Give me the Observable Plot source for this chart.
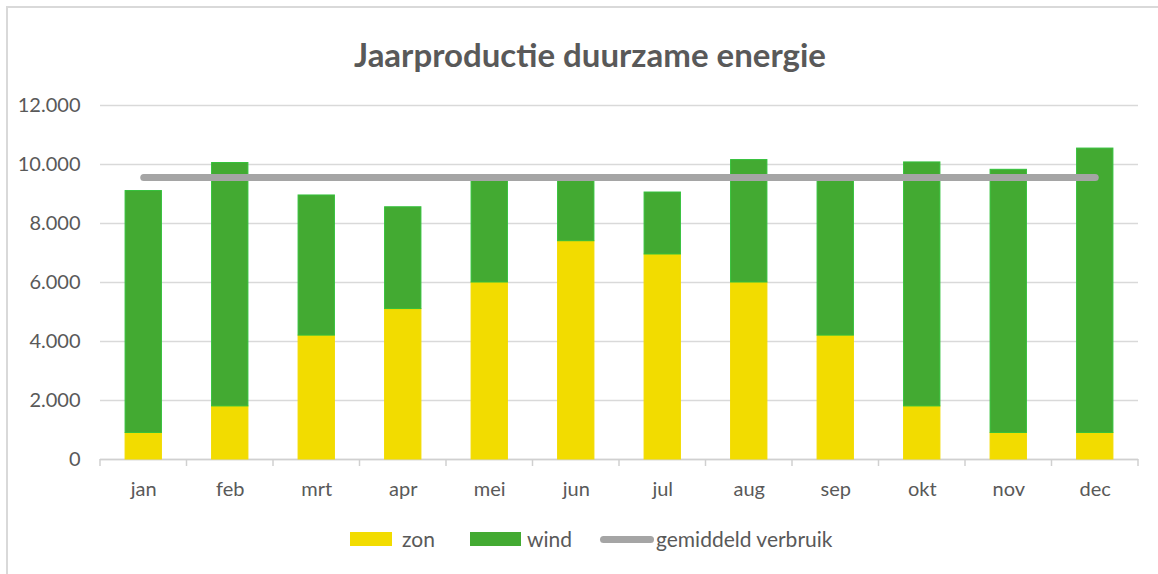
<!DOCTYPE html>
<html>
<head>
<meta charset="utf-8">
<script src="https://cdn.jsdelivr.net/npm/d3@7"></script>
<script src="https://cdn.jsdelivr.net/npm/@observablehq/plot@0.6"></script>
<style>
  html, body { margin: 0; padding: 0; background: #fff; }
  body { width: 1158px; height: 574px; overflow: hidden; position: relative; font-family: Lato, "Open Sans", sans-serif; color: #595959; }
  #frame { position: absolute; left: 6px; top: 6px; width: 1200px; height: 600px; border: 2px solid #d9d9d9; box-sizing: border-box; pointer-events: none; }
  #title { height: 90px; box-sizing: border-box; padding-top: 35px; padding-left: 22px; line-height: 38px; text-align: center; font-size: 33px; font-weight: bold; color: #595959; }
  #chart svg { display: block; }
  #legend { position: absolute; top: 528px; left: 0; width: 1158px; height: 22px; font-size: 21px; line-height: 22px; }
  .item { position: absolute; top: 0; display: flex; align-items: center; height: 22px; }
  .sw { display: inline-block; height: 14px; }
  .ln { display: inline-block; height: 7px; border-radius: 4px; }
</style>
</head>
<body>
<div id="frame"></div>
<div id="title">Jaarproductie duurzame energie</div>
<div id="chart"></div>
<div id="legend"></div>
<script>
const months = ["jan", "feb", "mrt", "apr", "mei", "jun", "jul", "aug", "sep", "okt", "nov", "dec"];
const zon = [900, 1800, 4200, 5100, 6000, 7400, 6950, 6000, 4200, 1800, 900, 900];
const wind = [8200, 8250, 4750, 3450, 3550, 2150, 2100, 4150, 5350, 8270, 8920, 9640];
const verbruik = [9560, 9560, 9560, 9560, 9560, 9560, 9560, 9560, 9560, 9560, 9560, 9560];
const yTicks = [0, 2000, 4000, 6000, 8000, 10000, 12000];
const seriesNames = ["zon", "wind", "gemiddeld verbruik"];

const colors = { zon: "#f2dc00", wind: "#43aa32", windEdge: "#33c03a", line: "#a5a5a5" };

const stacked = [];
months.forEach((m, i) => {
  stacked.push({ month: m, series: "zon", value: zon[i] });
  stacked.push({ month: m, series: "wind", value: wind[i] });
});
const lineData = months.map((m, i) => ({ month: m, value: verbruik[i] }));

const fmt = d => d3.format(",")(d).replace(/,/g, ".");

const PAD_INNER = 0.58, PAD_OUTER = 0.29;

// boundary ticks on the x axis, positioned from the band scale
function boundaryTicks(index, scales, values, dimensions) {
  const g = d3.create("svg:g");
  const x = scales.x;
  const y = scales.y;
  const n = months.length;
  const step = x(months[1]) - x(months[0]);
  const off = step * PAD_OUTER;
  const y0 = y(0);
  for (let i = 0; i <= n; i++) {
    const bx = (i < n ? x(months[i]) : x(months[n - 1]) + step) - off;
    g.append("line")
      .attr("x1", bx).attr("x2", bx)
      .attr("y1", y0).attr("y2", y0 + 7)
      .attr("stroke", "#d0d0d0").attr("stroke-width", 1.5);
  }
  return g.node();
}

const chart = Plot.plot({
  width: 1158,
  height: 419,
  marginLeft: 100,
  marginRight: 20,
  marginTop: 15,
  marginBottom: 50,
  style: { fontFamily: "Lato, 'Open Sans', sans-serif", fontSize: "20px", color: "#595959", background: "transparent" },
  x: { domain: months, paddingInner: PAD_INNER, paddingOuter: PAD_OUTER, round: false, label: null },
  y: { domain: [0, 12000], label: null },
  color: { domain: ["zon", "wind"], range: [colors.zon, colors.wind] },
  marks: [
    Plot.gridY(yTicks, { stroke: "#d9d9d9", strokeOpacity: 1, strokeWidth: 1.5 }),
    Plot.axisY(yTicks, { tickSize: 0, tickPadding: 20, tickFormat: fmt, fontSize: 20, fill: "#595959" }),
    Plot.axisX({ tickSize: 0, tickPadding: 22, fontSize: 20, fill: "#595959" }),
    Plot.ruleY([0], { stroke: "#d0d0d0", strokeWidth: 1.5 }),
    boundaryTicks,
    Plot.barY(stacked, { x: "month", y: "value", fill: "series", stroke: d => d.series === "wind" ? colors.windEdge : colors.zon, strokeWidth: 1 }),
    Plot.line(lineData, { x: "month", y: "value", stroke: colors.line, strokeWidth: 7, strokeLinecap: "round" })
  ]
});
document.getElementById("chart").appendChild(chart);

// legend
const legend = document.getElementById("legend");
const items = [
  { left: 350, html: `<span class="sw" style="width:42px;background:${colors.zon}"></span><span style="margin-left:10px">${seriesNames[0]}</span>` },
  { left: 470, html: `<span class="sw" style="width:51px;background:${colors.wind}"></span><span style="margin-left:6px">${seriesNames[1]}</span>` },
  { left: 600, html: `<span class="ln" style="width:54px;background:${colors.line}"></span><span style="margin-left:2px">${seriesNames[2]}</span>` }
];
items.forEach(it => {
  const d = document.createElement("div");
  d.className = "item";
  d.style.left = it.left + "px";
  d.innerHTML = it.html;
  legend.appendChild(d);
});
</script>
</body>
</html>
